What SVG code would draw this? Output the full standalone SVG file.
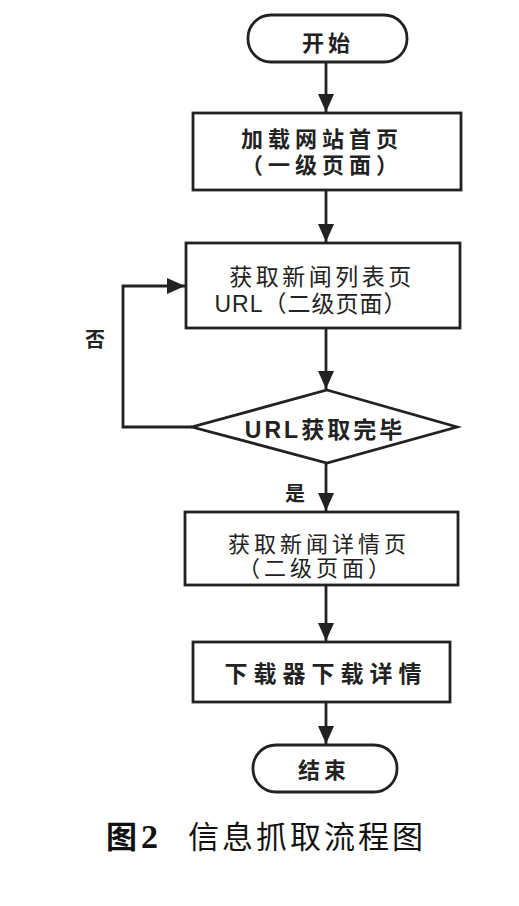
<svg xmlns="http://www.w3.org/2000/svg" width="519" height="906" viewBox="0 0 519 906">
<style>
.s{fill:#fff;stroke:#222;stroke-width:2.8}
.c{fill:none;stroke:#222;stroke-width:2.8}
.t{font-family:"Liberation Sans","Noto Sans CJK SC",sans-serif;fill:#222;text-anchor:middle;dominant-baseline:central}
.b{font-weight:bold}
.cap{font-family:"Liberation Serif","Noto Sans CJK SC",serif;fill:#111;font-size:31px}
</style>
<defs>
<marker id="ah" markerUnits="userSpaceOnUse" markerWidth="18" markerHeight="16" refX="18" refY="8" orient="auto">
<path d="M0,0 L18,8 L0,16 Z" fill="#222"/>
</marker>
</defs>
<rect width="519" height="906" fill="#fff"/>
<g id="connectors">
<line class="c" x1="326" y1="62" x2="326" y2="112" marker-end="url(#ah)"/>
<line class="c" x1="326" y1="190" x2="326" y2="242" marker-end="url(#ah)"/>
<line class="c" x1="326" y1="328" x2="326" y2="389" marker-end="url(#ah)"/>
<polyline class="c" points="192,427 123,427 123,286 185,286" marker-end="url(#ah)"/>
<line class="c" x1="326" y1="463" x2="326" y2="511" marker-end="url(#ah)"/>
<line class="c" x1="326" y1="585" x2="326" y2="641" marker-end="url(#ah)"/>
<line class="c" x1="326" y1="702" x2="326" y2="744" marker-end="url(#ah)"/>
<text class="t b" x="95" y="340" font-size="20">否</text>
<text class="t b" x="295" y="494" font-size="20">是</text>
</g>
<g id="start">
<rect class="s" x="248" y="15" width="159" height="47" rx="23"/>
<text class="t b" x="328" y="43" font-size="22" letter-spacing="4">开始</text>
</g>
<g id="load-home">
<rect class="s" x="193" y="113" width="268" height="77"/>
<text class="t b" x="322" y="139" font-size="22" letter-spacing="5">加载网站首页</text>
<text class="t b" x="322" y="165" font-size="22" letter-spacing="5">（一级页面）</text>
</g>
<g id="get-list">
<rect class="s" x="186" y="243" width="274" height="85"/>
<text class="t" x="322" y="277" font-size="23" letter-spacing="3.5">获取新闻列表页</text>
<text class="t" x="311" y="304" font-size="23" letter-spacing="1">URL（二级页面）</text>
</g>
<g id="decision">
<polygon class="s" points="327,390 457,427 327,463 192,427"/>
<text class="t b" x="325" y="430" font-size="23" letter-spacing="3">URL获取完毕</text>
</g>
<g id="get-detail">
<rect class="s" x="185" y="512" width="273" height="73"/>
<text class="t" x="319" y="544" font-size="22" letter-spacing="4">获取新闻详情页</text>
<text class="t" x="316" y="568" font-size="22" letter-spacing="4">（二级页面）</text>
</g>
<g id="download">
<rect class="s" x="193" y="642" width="257" height="60"/>
<text class="t b" x="326" y="674" font-size="23" letter-spacing="6">下载器下载详情</text>
</g>
<g id="end">
<rect class="s" x="253" y="745" width="144" height="47" rx="23"/>
<text class="t b" x="324" y="770" font-size="22" letter-spacing="4">结束</text>
</g>
<g id="caption">
<text class="cap" x="106" y="848" font-weight="bold">图<tspan dx="4" font-size="34">2</tspan></text>
<text class="cap" x="188" y="848" letter-spacing="3">信息抓取流程图</text>
</g>
</svg>
